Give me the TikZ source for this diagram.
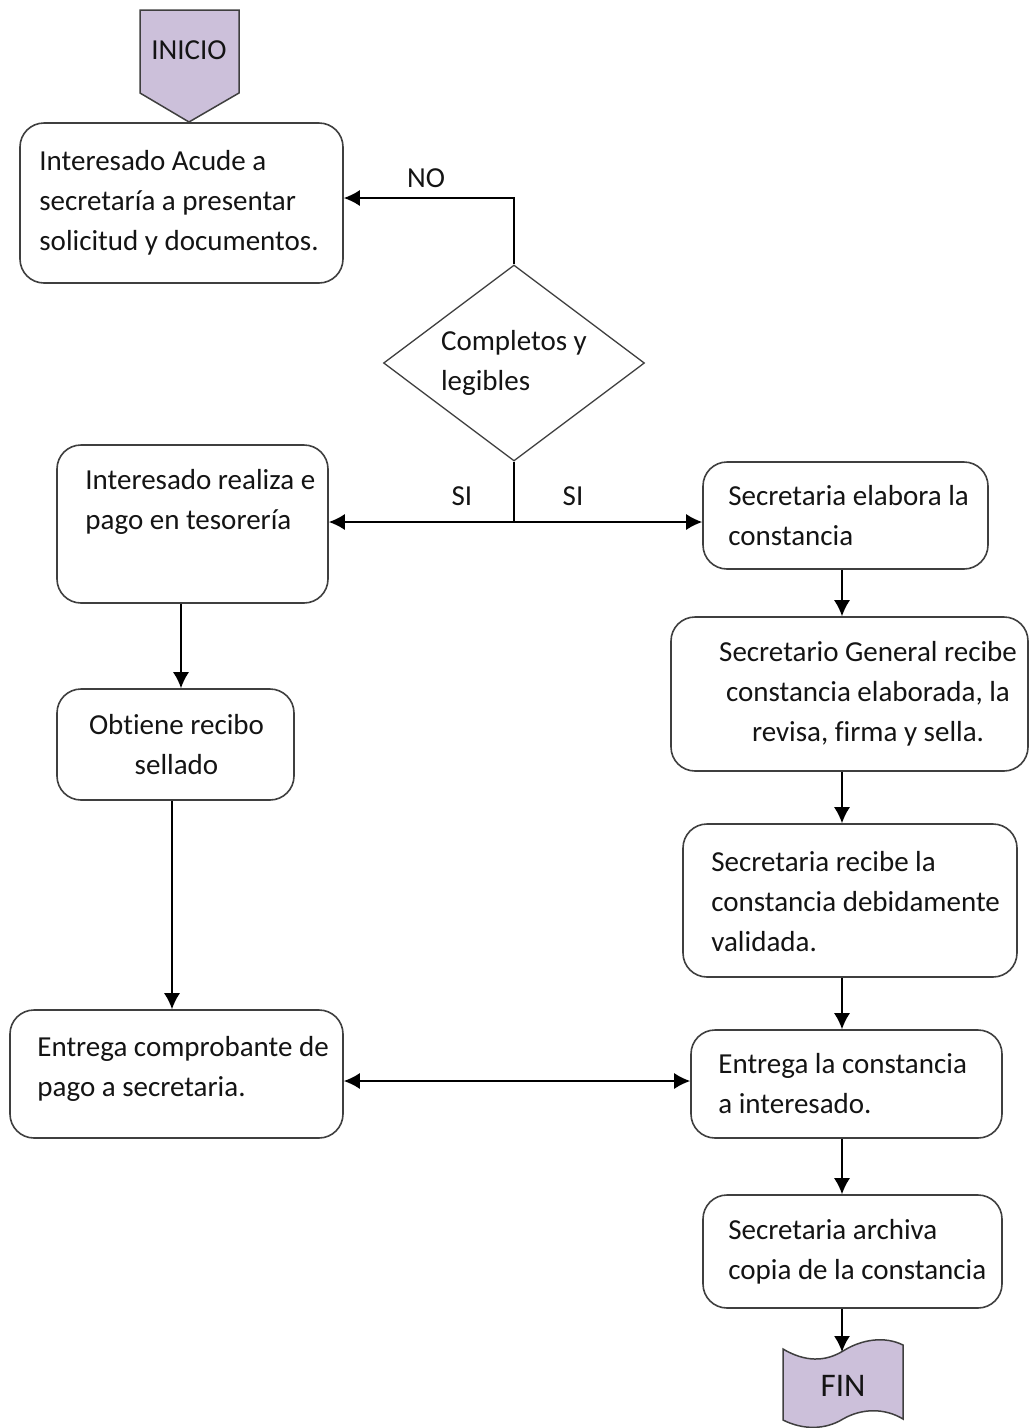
\documentclass[tikz,border=0pt]{standalone}
\usepackage{fontspec}
\setmainfont[Ligatures=NoCommon]{Carlito}
\usetikzlibrary{arrows.meta,positioning,calc,shapes.geometric}
\definecolor{cLinea}{HTML}{3F3F3F}
\definecolor{cLila}{HTML}{CCC0DA}
\definecolor{cTexto}{HTML}{141414}
\tikzset{
  caja/.style     = {draw=cLinea, line width=1.6pt, rounded corners=24pt, fill=white},
  decision/.style = {diamond, draw=cLinea, line width=1.3pt, aspect=1.33, inner sep=0pt,
                     minimum width=261pt, minimum height=196pt, align=left, text=cTexto},
  terminal/.style = {draw=cLinea, line width=1.5pt, fill=cLila},
  texto/.style    = {text=cTexto, inner sep=0pt, align=left, anchor=west},
  etiqueta/.style = {text=cTexto, inner sep=0pt},
  flecha/.style   = {black, line width=1.6pt, -{Latex[length=16pt,width=16pt]}},
  dflecha/.style  = {black, line width=1.6pt, {Latex[length=16pt,width=16pt]}-{Latex[length=16pt,width=16pt]}},
  linea/.style    = {black, line width=1.6pt},
}

\begin{document}
\begin{tikzpicture}[x=1pt, y=-1pt, font=\fontsize{29}{40}\selectfont]
  \useasboundingbox (0,0) rectangle (1031,1428);
  % inicio
  \draw[terminal] (140,10) -- (239,10) -- (239,93) -- (189,122) -- (140,93) -- cycle;
  \node[etiqueta] (inicio) at (189,50) {INICIO};
  % columna izquierda
  \node[caja, minimum width=323pt, minimum height=160pt] (acude) at (181.5,203) {};
  \node[texto] (acude-t) at ([xshift=20pt]acude.west)
    {Interesado Acude a\\secretaría a presentar\\solicitud y documentos.};
  \node[decision] (legible) at (514,363) {Completos y\\legibles};
  \node[caja, minimum width=271pt, minimum height=158pt] (pago) at (192.5,524) {};
  \node[texto] (pago-t) at ([xshift=29pt, yshift=22pt]pago.west)
    {Interesado realiza e\\pago en tesorería};
  \node[caja, minimum width=237pt, minimum height=111pt] (recibo) at (175.5,744.5) {};
  \node[texto, align=center, anchor=center] (recibo-t) at ([xshift=1pt]recibo.center)
    {Obtiene recibo\\sellado};
  \node[caja, minimum width=333pt, minimum height=128pt] (comprobante) at (176.5,1074) {};
  \node[texto] (comprobante-t) at ([xshift=28pt, yshift=5pt]comprobante.west)
    {Entrega comprobante de\\pago a secretaria.};
  % columna derecha
  \node[caja, minimum width=285pt, minimum height=107pt] (elabora) at (845.5,515.5) {};
  \node[texto] (elabora-t) at ([xshift=26pt]elabora.west)
    {Secretaria elabora la\\constancia};
  \node[caja, minimum width=357pt, minimum height=154pt] (revisa) at (849.5,694) {};
  \node[texto, align=center, anchor=center] (revisa-t) at (868,694)
    {Secretario General recibe\\constancia elaborada, la\\revisa, firma y sella.};
  \node[caja, minimum width=334pt, minimum height=153pt] (valida) at (850,900.5) {};
  \node[texto] (valida-t) at ([xshift=29pt, yshift=-1pt]valida.west)
    {Secretaria recibe la\\constancia debidamente\\validada.};
  \node[caja, minimum width=311pt, minimum height=108pt] (entrega) at (846.5,1084) {};
  \node[texto] (entrega-t) at ([xshift=28pt]entrega.west)
    {Entrega la constancia\\a interesado.};
  \node[caja, minimum width=299pt, minimum height=113pt] (archiva) at (852.5,1251.5) {};
  \node[texto] (archiva-t) at ([xshift=26pt]archiva.west)
    {Secretaria archiva\\copia de la constancia};
  % fin
  \draw[terminal] (783,1349) .. controls (805,1362) and (825,1362) .. (843,1351)
    .. controls (862,1339) and (885,1336) .. (903,1345) -- (903,1419)
    .. controls (885,1408) and (862,1408) .. (843,1419)
    .. controls (825,1430) and (803,1430) .. (783,1420) -- cycle;
  \node[etiqueta, font=\fontsize{33}{40}\selectfont] (fin) at (843,1386) {FIN};
  \coordinate (fin-top) at (842,1352);
  % conectores
  \coordinate (eje) at (842,0);
  \coordinate (cruce) at (514,522);
  \draw[flecha] (legible.north) |- ([yshift=5pt]acude.east);
  \draw[linea] (legible.south) -- (cruce);
  \draw[flecha] (cruce) -- (pago.east |- cruce);
  \draw[flecha] (cruce) -- (elabora.west |- cruce);
  \node[etiqueta] (no) at (426,178) {NO};
  \node[etiqueta] (si-izq) at (462,496) {SI};
  \node[etiqueta] (si-der) at (573,496) {SI};
  \draw[flecha] (elabora.south -| eje) -- (revisa.north -| eje);
  \draw[flecha] (revisa.south -| eje) -- (valida.north -| eje);
  \draw[flecha] (valida.south -| eje) -- (entrega.north -| eje);
  \draw[flecha] (entrega.south -| eje) -- (archiva.north -| eje);
  \draw[flecha] (archiva.south -| eje) -- (fin-top);
  \coordinate (izq1) at (181,0);
  \coordinate (izq2) at (172,0);
  \draw[flecha] (pago.south -| izq1) -- (recibo.north -| izq1);
  \draw[flecha] (recibo.south -| izq2) -- (comprobante.north -| izq2);
  \coordinate (c1) at ([yshift=-7pt]comprobante.east);
  \draw[dflecha] (c1) -- (c1 -| entrega.west);
\end{tikzpicture}
\end{document}
